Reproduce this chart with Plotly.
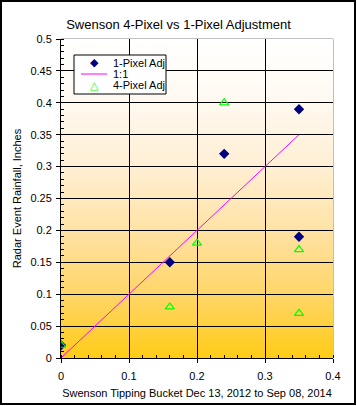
import base64, struct, zlib
import plotly.graph_objects as go

# ---- data ----
px1_x = [0.0, 0.16, 0.24, 0.35, 0.35]
px1_y = [0.02, 0.15, 0.32, 0.39, 0.19]
px4_x = [0.0, 0.16, 0.20, 0.24, 0.35, 0.35]
px4_y = [0.02, 0.08, 0.18, 0.40, 0.17, 0.07]
line_x = [0.0, 0.35]
line_y = [0.0, 0.35]
x_ticks = [0, 0.1, 0.2, 0.3, 0.4]
x_labels = ["0", "0.1", "0.2", "0.3", "0.4"]
y_ticks = [0, 0.05, 0.1, 0.15, 0.2, 0.25, 0.3, 0.35, 0.4, 0.45, 0.5]
y_labels = ["0", "0.05", "0.1", "0.15", "0.2", "0.25", "0.3", "0.35", "0.4", "0.45", "0.5"]
series_names = ["1-Pixel Adj", "1:1", "4-Pixel Adj"]

# ---- layout geometry (pixels) ----
W, H = 357, 406
L, R, T, B = 61, 333, 39, 358
PW, PH = R - L, B - T

def pxx(x):
    return (x - L) / PW

def pxy(y):
    return (B - y) / PH

# ---- gradient background image (top -> bottom) ----
stops = [(0.0, (255, 255, 255)), (0.2, (255, 249, 240)), (0.4, (255, 239, 212)),
         (0.6, (255, 226, 165)), (0.8, (255, 214, 105)), (1.0, (255, 204, 24))]

def col(t):
    for (a, ca), (b, cb) in zip(stops[:-1], stops[1:]):
        if a <= t <= b:
            f = (t - a) / (b - a)
            return tuple(int(round(ca[i] + (cb[i] - ca[i]) * f)) for i in range(3))
    return stops[-1][1]

NH = 256
raw = b"".join(b"\x00" + bytes(col(i / (NH - 1))) for i in range(NH))

def chunk(tag, data):
    c = struct.pack(">I", len(data)) + tag + data
    return c + struct.pack(">I", zlib.crc32(tag + data) & 0xffffffff)

png = (b"\x89PNG\r\n\x1a\n" + chunk(b"IHDR", struct.pack(">IIBBBBB", 1, NH, 8, 2, 0, 0, 0))
       + chunk(b"IDAT", zlib.compress(raw)) + chunk(b"IEND", b""))
uri = "data:image/png;base64," + base64.b64encode(png).decode()

FONT = "Liberation Sans, Arial, sans-serif"

fig = go.Figure()
fig.add_trace(go.Scatter(x=px1_x, y=px1_y, mode="markers", name=series_names[0],
                         marker=dict(symbol="diamond", size=8, color="#000080")))
fig.add_trace(go.Scatter(x=line_x, y=line_y, mode="lines", name=series_names[1],
                         line=dict(color="#FF00FF", width=1)))
fig.add_trace(go.Scatter(x=px4_x, y=px4_y, mode="markers", name=series_names[2],
                         marker=dict(symbol="triangle-up-open", size=8, color="#00FF00",
                                     line=dict(width=1.2, color="#00FF00"))))

fig.add_layout_image(dict(source=uri, xref="x", yref="y", x=0, y=0.5, sizex=0.4, sizey=0.5,
                          sizing="stretch", layer="below", xanchor="left", yanchor="top"))

# gray border of plot area
fig.add_shape(type="rect", xref="paper", yref="paper", x0=0, x1=1, y0=0, y1=1,
              line=dict(color="#808080", width=1), layer="below")
# outer frame
fig.add_shape(type="rect", xref="paper", yref="paper",
              x0=pxx(1), x1=pxx(355), y0=pxy(404), y1=pxy(1),
              line=dict(color="black", width=2), layer="above")

# custom compact legend
fig.add_shape(type="rect", xref="paper", yref="paper",
              x0=pxx(74), x1=pxx(166), y0=pxy(94), y1=pxy(55),
              line=dict(color="black", width=1), fillcolor="white", layer="above")
fig.add_shape(type="line", xref="paper", yref="paper",
              x0=pxx(81), x1=pxx(107), y0=pxy(74), y1=pxy(74),
              line=dict(color="#FF00FF", width=1), layer="above")
row_y = [63, 74, 85]
syms = [("◆", "#000080"), (None, None), ("△", "#00FF00")]
for name, yy, (s, c) in zip(series_names, row_y, syms):
    fig.add_annotation(x=pxx(111), y=pxy(yy), xref="paper", yref="paper", text=name,
                       showarrow=False, xanchor="left", yanchor="middle",
                       font=dict(size=11, family=FONT, color="black"))
    if s:
        fig.add_annotation(x=pxx(94.5), y=pxy(yy), xref="paper", yref="paper", text=s,
                           showarrow=False, xanchor="center", yanchor="middle",
                           font=dict(size=11, family="DejaVu Sans", color=c))

fig.update_layout(
    width=W, height=H,
    margin=dict(l=L, r=W - R, t=T, b=H - B, autoexpand=False),
    paper_bgcolor="white", plot_bgcolor="white",
    font=dict(family=FONT, size=11, color="black"),
    title=dict(text="Swenson 4-Pixel vs 1-Pixel Adjustment", x=0.5, xanchor="center",
               y=1 - 24 / H, yanchor="middle", font=dict(size=13)),
    showlegend=False,
)
fig.update_xaxes(range=[0, 0.4], tickvals=x_ticks, ticktext=x_labels, automargin=False,
                 showgrid=True, gridcolor="black", gridwidth=1,
                 showline=True, linecolor="black", linewidth=1, mirror=False,
                 ticks="outside", ticklen=4, tickcolor="black",
                 minor=dict(dtick=0.02, ticks="inside", ticklen=3, tickcolor="black", showgrid=False),
                 zeroline=False, tickfont=dict(size=11), ticklabelstandoff=4,
                 title=dict(text="Swenson Tipping Bucket Dec 13, 2012 to Sep 08, 2014",
                            font=dict(size=11), standoff=8))
fig.update_yaxes(range=[0, 0.5], tickvals=y_ticks, ticktext=y_labels, automargin=False,
                 showgrid=True, gridcolor="black", gridwidth=1,
                 showline=True, linecolor="black", linewidth=1,
                 ticks="outside", ticklen=4, tickcolor="black",
                 minor=dict(dtick=0.01, ticks="inside", ticklen=3, tickcolor="black", showgrid=False),
                 zeroline=False, tickfont=dict(size=11), ticklabelstandoff=2,
                 title=dict(text="Radar Event Rainfall, Inches", font=dict(size=11), standoff=6))

fig.write_html("out.html", config={"displayModeBar": False},
               post_script="document.body.style.margin='0';")
